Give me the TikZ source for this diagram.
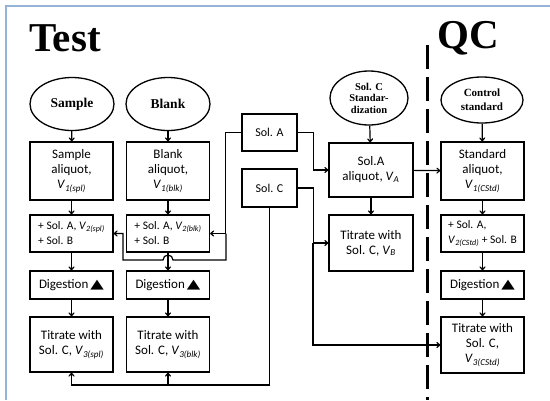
\documentclass[tikz,border=0pt]{standalone}
\usepackage{fontspec}
\usepackage{graphicx}
\setmainfont{Carlito}
\newfontfamily\timesfont{Liberation Serif}
\newfontfamily\symfont{DejaVu Sans}
\usetikzlibrary{shapes.geometric,arrows.meta}
\definecolor{framecol}{HTML}{95B3D7}
\newcommand{\Vs}[1]{\textit{V}\textsubscript{\textit{#1}}}
\newcommand{\heat}{\,\scalebox{1.35}[1]{\symfont\fontsize{13}{13}\selectfont ▲}}

\begin{document}
\begin{tikzpicture}[x=1pt,y=-1pt,
    box/.style={draw, line width=1.3pt, align=center, inner sep=1pt, minimum width=83pt, font=\fontsize{13}{15}\selectfont},
    small/.style={box, align=left, font=\fontsize{11.5}{15}\selectfont},
    oval/.style={draw, ellipse, line width=1.3pt, align=center, inner sep=0pt, font=\timesfont\bfseries\fontsize{13.5}{15}\selectfont},
    flow/.style={line width=1.2pt, -{To[length=4pt,width=6pt]}}]
    \useasboundingbox (0,0) rectangle (550,400);
    \draw[framecol, line width=2.5pt] (6,400) -- (6,6) -- (550,6);

    \node (test) at (65,38) {\timesfont\bfseries\fontsize{41}{41}\selectfont Test};
    \node (qc) at (468,38) {\timesfont\bfseries\fontsize{41}{41}\selectfont QC};
    \draw[line width=3pt, dash pattern=on 24pt off 8pt] (427,45) -- (427,400);

    % test column: sample
    \node[oval, minimum width=84pt, minimum height=53pt] (sample) at (72,104) {Sample};
    \node[box, minimum height=58pt] (spl1) at (71.5,171) {Sample\\aliquot,\\\Vs{1(spl)}};
    \node[small, minimum height=37pt] (spl2) at (71.5,233.5) {+ Sol. A, \Vs{2(spl)}\\+ Sol. B};
    \node[box, minimum height=28pt] (spl3) at (71.5,285) {Digestion\heat};
    \node[box, minimum height=55pt] (spl4) at (71.5,344.5) {Titrate with\\Sol. C, \Vs{3(spl)}};

    % test column: blank
    \node[oval, minimum width=84pt, minimum height=53pt] (blank) at (168,104) {Blank};
    \node[box, minimum height=58pt] (blk1) at (168,171) {Blank\\aliquot,\\\Vs{1(blk)}};
    \node[small, minimum height=37pt] (blk2) at (168,233.5) {+ Sol. A, \Vs{2(blk)}\\+ Sol. B};
    \node[box, minimum height=28pt] (blk3) at (168,285) {Digestion\heat};
    \node[box, minimum height=55pt] (blk4) at (168,344.5) {Titrate with\\Sol. C, \Vs{3(blk)}};

    % reagents
    \node[box, minimum width=55pt, minimum height=37pt, font=\fontsize{12}{14}\selectfont] (solA) at (269.5,132.5) {Sol. A};
    \node[box, minimum width=55pt, minimum height=38pt, font=\fontsize{12}{14}\selectfont] (solC) at (269.5,188) {Sol. C};

    % standardization
    \node[oval, minimum width=78pt, minimum height=54pt, font=\timesfont\bfseries\fontsize{10.5}{11.5}\selectfont] (stdz) at (369,98) {Sol. C\\Standar-\\dization};
    \node[box, minimum width=84pt, minimum height=54pt] (stdA) at (371,170) {Sol.A\\aliquot, \Vs{A}};
    \node[box, minimum width=84pt, minimum height=56pt] (titB) at (371,243) {Titrate with\\Sol. C, \Vs{B}};

    % QC column
    \node[oval, minimum width=82pt, minimum height=46pt, font=\timesfont\bfseries\fontsize{11}{14}\selectfont] (ctrl) at (482,100) {Control\\standard};
    \node[box, minimum height=58pt] (cs1) at (482.5,171) {Standard\\aliquot,\\\Vs{1(CStd)}};
    \node[small, minimum height=37pt] (cs2) at (482.5,233.5) {+ Sol. A,\\\Vs{2(CStd)} + Sol. B};
    \node[box, minimum height=28pt] (cs3) at (482.5,285) {Digestion\heat};
    \node[box, minimum height=56pt] (cs4) at (482.5,345) {Titrate with\\Sol. C,\\\Vs{3(CStd)}};

    \draw[flow] (sample) -- (spl1);
    \draw[flow] (spl1) -- (spl2);
    \draw[flow] (spl2) -- (spl3);
    \draw[flow] (spl3) -- (spl4);
    \draw[flow] (blank) -- (blk1);
    \draw[flow] (blk1) -- (blk2);
    \draw[flow] (blk2) -- (blk3);
    \draw[flow] (blk3) -- (blk4);
    \draw[flow] (stdz) -- (stdA);
    \draw[flow] (stdA) -- (titB);
    \draw[flow] (ctrl) -- (cs1);
    \draw[flow] (cs1) -- (cs2);
    \draw[flow] (cs2) -- (cs3);
    \draw[flow] (cs3) -- (cs4);
    \draw[flow] (stdA) -- (cs1);

    % Sol. A feeds
    \draw[flow] (solA.east) -- ++(16,0) |- (stdA.west);
    \draw[flow] (solA.west) -- ++(-16,0) |- (blk2.east);
    \draw[flow] (blk2.east -| 226,0) -- (226,260) -- (173,260)
        arc[start angle=0, end angle=-180, radius=5] -- (123,260) -- (123,233.5) -- (spl2.east);

    % Sol. C feeds
    \draw[flow] (solC.east) -- ++(16,0) |- (titB.west);
    \draw[flow] (titB.west -| 313,0) |- (cs4.west);
    \draw[flow] (solC.south) |- (168,385) -| (spl4.south);
    \draw[flow] (168,385) -- (blk4.south);
\end{tikzpicture}
\end{document}
